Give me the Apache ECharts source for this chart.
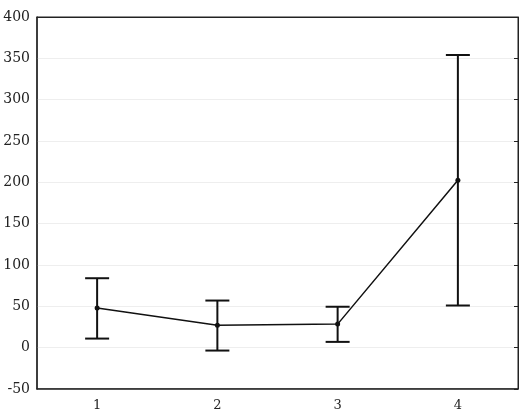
<!DOCTYPE html>
<html>
<head>
<meta charset="utf-8">
<script src="https://cdn.jsdelivr.net/npm/echarts@6/dist/echarts.min.js"></script>
<style>
  html, body { margin: 0; padding: 0; background: #fff; }
  #main { width: 529px; height: 414px; }
</style>
</head>
<body>
<div id="main"></div>
<script>
const categories = ['1', '2', '3', '4']
const means = [48, 27, 28.5, 202.5]
const upper = [84, 57, 49.5, 354]
const lower = [11, -3.5, 7, 51]

const chart = echarts.init(document.getElementById('main'))
const font = 'DejaVu Serif'

const errorData = categories.map((c, i) => [i, lower[i], upper[i]])

const option = {
  animation: false,
  grid: {
    left: 37,
    right: 11,
    top: 17,
    bottom: 25,
    show: true,
    borderColor: '#222',
    borderWidth: 1
  },
  xAxis: [
    {
      type: 'category',
      data: categories,
      boundaryGap: true,
      axisLine: { onZero: false, lineStyle: { color: '#222', width: 1.5 } },
      axisTick: { inside: true, alignWithLabel: true, length: 4, lineStyle: { color: '#222' } },
      axisLabel: { color: '#222', fontFamily: font, fontSize: 13, margin: 10 }
    },
    {
      type: 'category',
      data: categories,
      position: 'top',
      boundaryGap: true,
      axisLine: { onZero: false, lineStyle: { color: '#222' } },
      axisTick: { inside: true, alignWithLabel: true, length: 4, lineStyle: { color: '#222' } },
      axisLabel: { show: false }
    }
  ],
  yAxis: [
    {
      type: 'value',
      min: -50,
      max: 400,
      interval: 50,
      axisLine: { show: true, onZero: false, lineStyle: { color: '#222', width: 1.5 } },
      axisTick: { show: false },
      axisLabel: { color: '#222', fontFamily: font, fontSize: 14, margin: 7 },
      splitLine: { lineStyle: { color: '#eeeeee', width: 1 } }
    },
    {
      type: 'value',
      min: -50,
      max: 400,
      interval: 50,
      position: 'right',
      axisLine: { show: true, onZero: false, lineStyle: { color: '#222' } },
      axisTick: { show: true, inside: true, length: 4, lineStyle: { color: '#222' } },
      axisLabel: { show: false },
      splitLine: { show: false }
    }
  ],
  series: [
    {
      type: 'custom',
      name: 'error',
      xAxisIndex: 0,
      yAxisIndex: 0,
      data: errorData,
      renderItem: function (params, api) {
        const x = api.value(0)
        const lo = api.coord([x, api.value(1)])
        const hi = api.coord([x, api.value(2)])
        const half = 12
        const style = { stroke: '#111', lineWidth: 2 }
        return {
          type: 'group',
          children: [
            { type: 'line', shape: { x1: hi[0], y1: hi[1], x2: lo[0], y2: lo[1] }, style: style },
            { type: 'line', shape: { x1: hi[0] - half, y1: hi[1], x2: hi[0] + half, y2: hi[1] }, style: style },
            { type: 'line', shape: { x1: lo[0] - half, y1: lo[1], x2: lo[0] + half, y2: lo[1] }, style: style }
          ]
        }
      },
      z: 3
    },
    {
      type: 'line',
      name: 'mean',
      data: means,
      symbol: 'circle',
      symbolSize: 5,
      color: '#111',
      lineStyle: { color: '#111', width: 1.5 },
      itemStyle: { color: '#111' },
      z: 4
    }
  ]
}
chart.setOption(option)
</script>
</body>
</html>
